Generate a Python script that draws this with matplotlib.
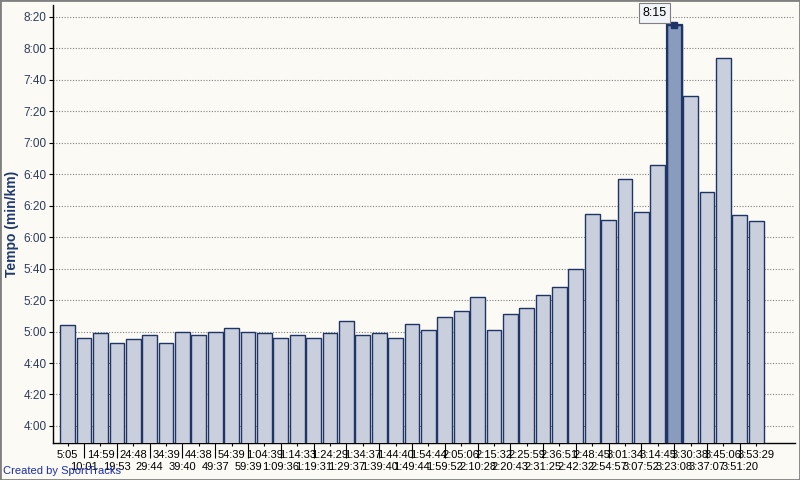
import matplotlib.pyplot as plt
from matplotlib.patches import Rectangle

# pace per km (m:ss)
pace = ['5:04', '4:56', '4:59', '4:53', '4:55', '4:58', '4:53', '5:00', '4:58', '5:00',
        '5:02', '5:00', '4:59', '4:56', '4:58', '4:56', '4:59', '5:07', '4:58', '4:59',
        '4:56', '5:05', '5:01', '5:09', '5:13', '5:22', '5:01', '5:11', '5:15', '5:23',
        '5:28', '5:40', '6:15', '6:11', '6:37', '6:16', '6:46', '8:15', '7:30', '6:29',
        '7:54', '6:14', '6:10']
# cumulative time labels on the x axis
elapsed = ['5:05', '10:01', '14:59', '19:53', '24:48', '29:44', '34:39', '39:40', '44:38', '49:37',
           '54:39', '59:39', '1:04:39', '1:09:36', '1:14:33', '1:19:31', '1:24:29', '1:29:37',
           '1:34:37', '1:39:40', '1:44:40', '1:49:44', '1:54:44', '1:59:52', '2:05:06', '2:10:28',
           '2:15:32', '2:20:43', '2:25:59', '2:31:25', '2:36:51', '2:42:32', '2:48:45', '2:54:57',
           '3:01:34', '3:07:52', '3:14:45', '3:23:08', '3:30:38', '3:37:07', '3:45:06', '3:51:20',
           '3:53:29']
highlight = 37


def to_sec(s):
    m, ss = s.split(':')
    return int(m) * 60 + int(ss)


def fmt(v, pos=None):
    v = int(round(v))
    return '%d:%02d' % (v // 60, v % 60)


secs = [to_sec(p) for p in pace]
x = list(range(len(secs)))

bg = '#fbfaf5'
navy = '#1f3566'
plt.rcParams['font.family'] = ['Liberation Sans', 'DejaVu Sans']

fig = plt.figure(figsize=(8, 4.8), dpi=100, facecolor=bg)
ax = fig.add_axes([0.0666, 0.0765, 0.927, 0.913])
ax.set_facecolor(bg)

colors = ['#c9cfdd'] * len(secs)
colors[highlight] = '#8a9cbd'
ax.bar(x, secs, width=0.9, color=colors, edgecolor=navy, linewidth=1, zorder=3)
ax.bar(highlight, secs[highlight], width=0.9, color='none', edgecolor=navy, linewidth=1.6, zorder=4)

ax.set_ylim(229, 507.5)
ax.set_xlim(-0.88, 44.36)

yt = list(range(240, 501, 20))
ax.set_yticks(yt)
ax.set_yticklabels([fmt(v) for v in yt], fontsize=8.5, color='#2e3b5a')
ax.yaxis.grid(True, linestyle=(0, (1, 1.5)), color='#808080', linewidth=0.8, zorder=1)

labels = [e if i % 2 == 0 else '\n' + e for i, e in enumerate(elapsed)]
ax.set_xticks(x)
ax.set_xticklabels(labels, fontsize=8, linespacing=1.2)
ax.tick_params(axis='x', length=2.5, pad=2.5, width=0.8)
ax.tick_params(axis='y', length=3, pad=2, width=0.8)
for i, t in enumerate(ax.xaxis.get_major_ticks()):
    if i % 2 == 1:
        t.tick1line.set_markersize(11)

for s in ['top', 'right']:
    ax.spines[s].set_visible(False)
ax.spines['left'].set_linewidth(1)
ax.spines['bottom'].set_linewidth(1)

ax.set_ylabel('Tempo (min/km)', fontsize=10, fontweight='bold', color='#1f3a6e', labelpad=3)

# highlighted bar marker and value box
ax.plot(highlight, secs[highlight], marker='s', markersize=4, color=navy, zorder=5, clip_on=False)
ax.text(highlight - 1.2, 502.4, fmt(secs[highlight]), fontsize=9, ha='center', va='center',
        zorder=6, bbox=dict(boxstyle='square,pad=0.3', facecolor='#f2f5f8', edgecolor='#808080', linewidth=0.8))

fig.text(0.004, 0.008, 'Created by SportTracks', fontsize=8, color='#1a2cb0', ha='left', va='bottom')
fig.patches.append(Rectangle((0, 0), 1, 1, transform=fig.transFigure, fill=False,
                             edgecolor='#808080', linewidth=2))

fig.savefig('out.png', dpi=100, facecolor=bg)
